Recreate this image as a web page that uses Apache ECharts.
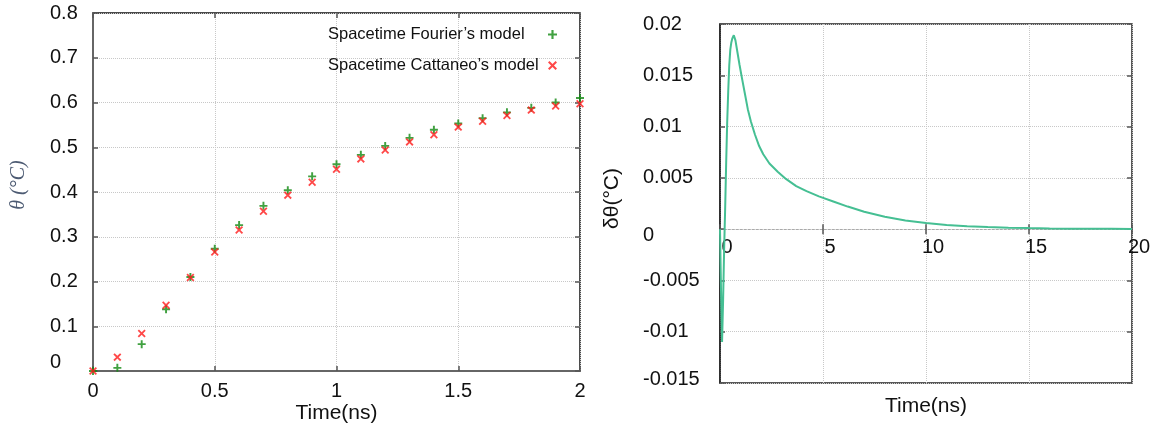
<!DOCTYPE html>
<html>
<head>
<meta charset="utf-8">
<script src="https://cdn.jsdelivr.net/npm/echarts@6/dist/echarts.min.js"></script>
<style>
  html, body { margin: 0; padding: 0; background: #fff; }
  #main { width: 1171px; height: 434px; }
</style>
</head>
<body>
<div id="main"></div>
<script>
// left chart: temperature at 0..2 ns
var timeLeft = [0, 0.1, 0.2, 0.3, 0.4, 0.5, 0.6, 0.7, 0.8, 0.9, 1.0,
  1.1, 1.2, 1.3, 1.4, 1.5, 1.6, 1.7, 1.8, 1.9, 2.0];
var fourier = [0, 0.007, 0.06, 0.138, 0.21, 0.273, 0.326, 0.369, 0.404, 0.435, 0.462,
  0.483, 0.503, 0.521, 0.539, 0.553, 0.565, 0.578, 0.588, 0.6, 0.61];
var cattaneo = [0, 0.031, 0.084, 0.147, 0.209, 0.266, 0.315, 0.357, 0.393, 0.422, 0.451,
  0.474, 0.494, 0.512, 0.528, 0.545, 0.558, 0.571, 0.583, 0.592, 0.597];

// right chart: difference between both models
var timeRight = [0, 0.05, 0.1, 0.15, 0.2, 0.25, 0.3, 0.35, 0.4, 0.45, 0.5, 0.55, 0.6, 0.67,
  0.75, 0.85, 0.95, 1.05, 1.2, 1.35, 1.5, 1.7, 1.9, 2.1, 2.4, 2.8, 3.2, 3.7, 4.2, 4.8,
  5.5, 6.2, 7, 8, 9, 10, 11, 12, 13, 14, 15, 16, 17, 18, 19, 20];
var deltaTheta = [0, -0.006, -0.011, -0.007, -0.002, 0.002, 0.0065, 0.0105, 0.0135, 0.016,
  0.0175, 0.0182, 0.0186, 0.0189, 0.0184, 0.0172, 0.016, 0.0149, 0.0133, 0.0117, 0.0105,
  0.0092, 0.0081, 0.0073, 0.0064, 0.0056, 0.0049, 0.0042, 0.0037, 0.0032, 0.0027, 0.0022,
  0.0017, 0.0012, 0.00085, 0.0006, 0.0004, 0.00028, 0.0002, 0.00014, 0.0001, 0.00007,
  0.00005, 0.00004, 0.00003, 0.00002];

var legendNames = ['Spacetime Fourier\u2019s model', 'Spacetime Cattaneo\u2019s model'];

var plusPath = 'path://M3.8,0H6.2V3.8H10V6.2H6.2V10H3.8V6.2H0V3.8H3.8Z';
var crossPath = 'path://M0,1.6L1.6,0L5,3.4L8.4,0L10,1.6L6.6,5L10,8.4L8.4,10L5,6.6L1.6,10L0,8.4L3.4,5Z';

function pairs(xs, ys) {
  return xs.map(function (x, i) { return [x, ys[i]]; });
}

var dotted = { show: true, lineStyle: { type: 'dotted', color: '#c8c8c8', width: 1 } };
var tickIn = { show: true, inside: true, length: 5, lineStyle: { color: '#555', width: 1.5 } };
var noLabel = { show: false };

var chart = echarts.init(document.getElementById('main'));

chart.setOption({
  animation: false,
  backgroundColor: '#fff',
  textStyle: { fontFamily: 'Liberation Sans, Arial, sans-serif' },
  grid: [
    { left: 93, top: 13, width: 487, height: 358, show: true, borderColor: '#111', borderWidth: 1.5, outerBoundsMode: 'none' },
    { left: 720, top: 24, width: 412, height: 359, show: true, borderColor: '#222', borderWidth: 1.5, outerBoundsMode: 'none' }
  ],
  legend: {
    data: legendNames,
    left: 323,
    top: 21,
    orient: 'vertical',
    align: 'right',
    itemWidth: 9,
    itemHeight: 9,
    itemGap: 14,
    formatter: function (name) { return '{t|' + name + '}'; },
    textStyle: {
      fontSize: 16.5,
      color: '#111',
      rich: { t: { width: 215, align: 'left', fontSize: 16.5, color: '#111' } }
    }
  },
  xAxis: [
    {
      gridIndex: 0, type: 'value', position: 'bottom', min: 0, max: 2, interval: 0.5,
      axisLine: { show: true, onZero: false, lineStyle: { color: '#666', width: 2 } },
      axisTick: tickIn,
      axisLabel: { fontSize: 20, color: '#111', margin: 10 },
      splitLine: dotted,
      name: 'Time(ns)', nameLocation: 'middle', nameGap: 32, nameMoveOverlap: false,
      nameTextStyle: { fontSize: 21, color: '#111' }
    },
    {
      gridIndex: 0, type: 'value', position: 'top', min: 0, max: 2, interval: 0.5,
      axisLine: { show: false, onZero: false },
      axisTick: tickIn, axisLabel: noLabel, splitLine: { show: false }
    },
    {
      // line and ticks sit on y = 0, labels are measured from the bottom edge
      gridIndex: 1, type: 'value', position: 'bottom', min: 0, max: 20, interval: 5,
      axisLine: { show: true, onZero: true, onZeroAxisIndex: 2, lineStyle: { type: [2, 2], color: '#aaa', width: 1 } },
      axisTick: { show: true, length: 5, lineStyle: { color: '#555', width: 1.5 } },
      axisLabel: { fontSize: 20, color: '#111', margin: -146, padding: [0, 0, 0, 14] },
      splitLine: dotted,
      name: 'Time(ns)', nameLocation: 'middle', nameGap: 13, nameMoveOverlap: false,
      nameTextStyle: { fontSize: 21, color: '#111' }
    },
    {
      gridIndex: 1, type: 'value', position: 'top', min: 0, max: 20, interval: 5,
      axisLine: { show: false, onZero: true, onZeroAxisIndex: 2 },
      axisTick: { show: true, length: 5, lineStyle: { color: '#555', width: 1.5 } },
      axisLabel: noLabel, splitLine: { show: false }
    }
  ],
  yAxis: [
    {
      gridIndex: 0, type: 'value', position: 'left', min: 0, max: 0.8, interval: 0.1,
      axisLine: { show: true, onZero: false, lineStyle: { color: '#666', width: 2 } },
      axisTick: tickIn,
      axisLabel: {
        fontSize: 20, color: '#111', margin: 43, align: 'left',
        formatter: function (v) { return v === 0 ? '{z|0}' : String(v); },
        rich: { z: { fontSize: 20, color: '#111', padding: [0, 0, 18, 0] } }
      },
      splitLine: dotted,
      name: '\u03b8 (\u00b0C)', nameLocation: 'middle', nameRotate: 90, nameGap: 64, nameMoveOverlap: false,
      nameTextStyle: { fontSize: 20, fontFamily: 'Liberation Serif, serif', fontStyle: 'italic', color: '#4d5b73', padding: [0, 0, 0, 14] }
    },
    {
      gridIndex: 0, type: 'value', position: 'right', min: 0, max: 0.8, interval: 0.1,
      axisLine: { show: false, onZero: false },
      axisTick: tickIn, axisLabel: noLabel, splitLine: { show: false }
    },
    {
      gridIndex: 1, type: 'value', position: 'left', min: -0.015, max: 0.02, interval: 0.005,
      axisLine: { show: true, onZero: false, lineStyle: { color: '#222', width: 1.5 } },
      axisTick: tickIn,
      axisLabel: {
        fontSize: 20, color: '#111', margin: 77, align: 'left',
        formatter: function (v) {
          if (v === 0) return '{z|0}';
          if (Math.abs(v + 0.015) < 1e-9) return '{b|-0.015}';
          return String(v);
        },
        rich: {
          z: { fontSize: 20, color: '#111', padding: [12, 0, 0, 0] },
          b: { fontSize: 20, color: '#111', padding: [0, 0, 8, 0] }
        }
      },
      splitLine: dotted,
      name: '\u03b4\u03b8(\u00b0C)', nameLocation: 'middle', nameRotate: 90, nameGap: 97, nameMoveOverlap: false,
      nameTextStyle: { fontSize: 21, color: '#111', padding: [0, 0, 0, 10] }
    },
    {
      gridIndex: 1, type: 'value', position: 'right', min: -0.015, max: 0.02, interval: 0.005,
      axisLine: { show: false, onZero: false },
      axisTick: tickIn, axisLabel: noLabel, splitLine: { show: false }
    }
  ],
  series: [
    {
      name: legendNames[0], type: 'scatter', xAxisIndex: 0, yAxisIndex: 0,
      symbol: plusPath, symbolSize: 8,
      itemStyle: { color: '#128a12' },
      data: pairs(timeLeft, fourier)
    },
    {
      name: legendNames[1], type: 'scatter', xAxisIndex: 0, yAxisIndex: 0,
      symbol: crossPath, symbolSize: 8,
      itemStyle: { color: '#ff1a1a' },
      data: pairs(timeLeft, cattaneo)
    },
    {
      name: 'delta', type: 'line', xAxisIndex: 2, yAxisIndex: 2,
      showSymbol: false, symbol: 'none',
      lineStyle: { color: '#45bf93', width: 2 },
      data: pairs(timeRight, deltaTheta)
    }
  ]
});
</script>
</body>
</html>
